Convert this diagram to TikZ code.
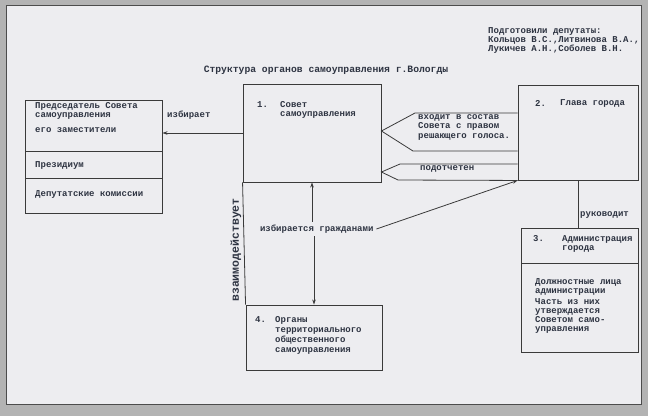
\documentclass[tikz,border=0pt]{standalone}
\usepackage{fontspec}
\setmonofont{Liberation Mono}
\usetikzlibrary{arrows.meta}
\definecolor{pagec}{HTML}{EDEDF0}
\definecolor{rimc}{HTML}{B3B3B3}
\definecolor{inkc}{HTML}{2E3442}
\definecolor{linec}{HTML}{3A3A3A}
\begin{document}
\begin{tikzpicture}[x=1pt,y=-1pt,
	box/.style={draw=linec,line width=0.9pt,inner sep=0pt},
	txt/.style={font=\ttfamily\bfseries\fontsize{9}{9}\selectfont,text=inkc,inner sep=0pt,align=left},
	conn/.style={draw=linec,line width=0.8pt},
	arr/.style={-{Stealth[length=5pt,width=3.5pt]}}]
	% page
	\fill[rimc] (0,0) rectangle (648,416);
	\fill[pagec,draw=gray!60!black,line width=0.8pt] (6,5) rectangle (641,404);
	\useasboundingbox (0,0) rectangle (648,416);

	\node[txt,anchor=north west] at (488,27) (avt) {Подготовили депутаты:\\Кольцов В.С.,Литвинова В.А.,\\Лукичев А.Н.,Соболев В.Н.};
	\node[txt,font=\ttfamily\bfseries\fontsize{9.7}{10}\selectfont] at (326,70) (title) {Структура органов самоуправления г.Вологды};

	% boxes
	\node[box,minimum width=137,minimum height=51] at (93.5,125.5) (pred) {};
	\node[box,minimum width=137,minimum height=27] at (93.5,164.5) (prez) {};
	\node[box,minimum width=137,minimum height=35] at (93.5,195.5) (komis) {};
	\node[box,minimum width=138,minimum height=98] at (312,133) (sovet) {};
	\node[box,minimum width=120,minimum height=95] at (578,132.5) (glava) {};
	\node[box,minimum width=117,minimum height=35] at (579.5,245.5) (admin) {};
	\node[box,minimum width=117,minimum height=89] at (579.5,307.5) (lica) {};
	\node[box,minimum width=136,minimum height=65] at (314,337.5) (organy) {};

	% box texts
	\node[txt,anchor=north west] at (35,102) (predt) {Председатель Совета\\самоуправления};
	\node[txt,anchor=west] at (35,130) (zamt) {его заместители};
	\node[txt,anchor=west] at (35,165) (prezt) {Президиум};
	\node[txt,anchor=west] at (35,194) (komist) {Депутатские комиссии};
	\node[txt,anchor=west] at (257,105) (n1) {1.};
	\node[txt,anchor=north west] at (280,101) (sovett) {Совет\\самоуправления};
	\node[txt,anchor=west] at (535,103) (n2) {2.};
	\node[txt,anchor=west] at (560,103) (glavat) {Глава города};
	\node[txt,anchor=west] at (533,239) (n3) {3.};
	\node[txt,anchor=north west] at (562,235) (admint) {Администрация\\города};
	\node[txt,anchor=north west] at (535,278) (licat) {Должностные лица\\администрации};
	\node[txt,anchor=north west] at (535,298) (chast) {Часть из них\\утверждается\\Советом само-\\управления};
	\node[txt,anchor=west] at (255,320) (n4) {4.};
	\node[txt,anchor=north west,font=\ttfamily\bfseries\fontsize{9}{10}\selectfont] at (275,316) (organyt) {Органы\\территориального\\общественного\\самоуправления};

	% connector labels
	\node[txt,anchor=west] at (167,115) (izbt) {избирает};
	\node[txt,anchor=north west,font=\ttfamily\bfseries\fontsize{9}{9.5}\selectfont] at (418,114) (vhod) {входит в состав\\Совета с правом\\решающего голоса.};
	\node[txt,anchor=west] at (420,169) (podot) {подотчетен};
	\node[txt,anchor=west,outer sep=3pt] at (257,229) (izbir) {избирается гражданами};
	\node[txt,anchor=west] at (580,215) (ruk) {руководит};
	\node[txt,rotate=90,font=\ttfamily\bfseries\fontsize{11.5}{12}\selectfont] at (236,250) (vzaim) {взаимодействует};

	% connectors
	\draw[conn,arr] (sovet.west) -- (sovet.west -| pred.east);
	\coordinate (b1) at (415,113);
	\coordinate (b2) at (413,151);
	\draw[conn] (glava.west |- b1) -- (b1) -- (sovet.east |- 0,131) -- (b2) -- (glava.west |- b2);
	\coordinate (b3) at (400,164);
	\coordinate (b4) at (398,180);
	\draw[conn] (glava.west |- b3) -- (b3) -- (sovet.east |- 0,172) -- (b4) -- (glava.south west);
	\draw[conn,arr] (izbir.north -| sovet.south) -- (sovet.south);
	\draw[conn,arr] (izbir.south -| organy.north) -- (organy.north);
	\draw[conn,arr] (izbir.east) -- (glava.south west);
	\draw[conn] (glava.south) -- (glava.south |- admin.north);
	\draw[conn] (sovet.south west) -- (organy.north west);
\end{tikzpicture}
\end{document}
